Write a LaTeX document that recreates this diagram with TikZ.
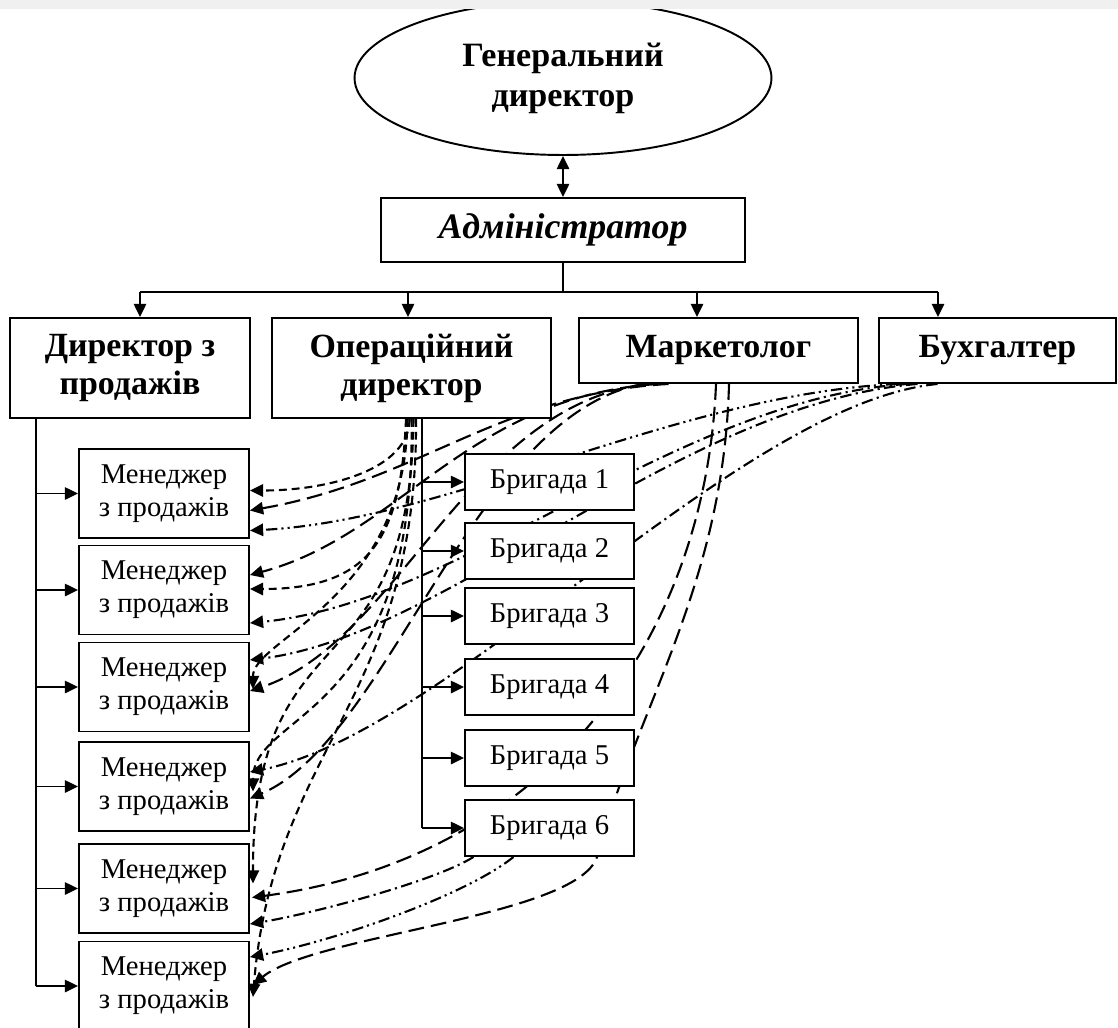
\documentclass[tikz,border=0pt]{standalone}
\usepackage{fontspec}
\setmainfont{Liberation Serif}
\usetikzlibrary{arrows.meta,shapes.geometric,calc,backgrounds}

\begin{document}
\begin{tikzpicture}[x=0.02cm, y=-0.02cm,
  box/.style={draw, line width=1.1pt, fill=white, align=center, inner sep=1pt},
  headbox/.style={box, font=\fontsize{19.3}{21.5}\selectfont\bfseries},
  smallbox/.style={box, font=\fontsize{16.3}{18.7}\selectfont},
  tip/.style={-{Triangle[length=7.5pt,width=7pt]}},
  tree/.style={line width=1.1pt},
  opline/.style={tip, line width=1.2pt, dash pattern=on 4.5pt off 2.8pt},
  mkline/.style={tip, line width=1.2pt, dash pattern=on 9pt off 4pt},
  dashdotline/.style={tip, line width=1.2pt, dash pattern=on 6.5pt off 2.5pt on 1.2pt off 2.5pt},
  dotdotline/.style={tip, line width=1.2pt, dash pattern=on 6.5pt off 2.3pt on 1.2pt off 2.3pt on 1.2pt off 2.3pt}]

  % page
  \useasboundingbox (0,0) rectangle (1118,1027);
  \begin{scope}[on background layer]
    \fill[white] (0,0) rectangle (1118,1027);
  \end{scope}

  % top
  \node[draw, ellipse, line width=1.1pt, minimum width=8.34cm, minimum height=3.08cm, align=center,
        font=\fontsize{19.4}{22.7}\selectfont\bfseries] (gd) at (563,78) {Генеральний\\директор};
  \fill[black!6] (0,0) rectangle (1118,9);
  \node[box, minimum width=7.28cm, minimum height=1.28cm,
        font=\fontsize{20.4}{24}\selectfont\bfseries\itshape] (adm) at (563,230) {Адміністратор};
  \draw[tree, {Triangle[length=7.5pt,width=7pt]}-{Triangle[length=7.5pt,width=7pt]}] (gd.south) -- (adm.north);

  % second level
  \node[headbox, minimum width=4.8cm, minimum height=2cm] (sd) at (130,368) {Директор з\\продажів};
  \node[headbox, minimum width=5.58cm, minimum height=2cm] (od) at (411.5,368) {Операційний\\директор};
  \node[headbox, minimum width=5.58cm, minimum height=1.3cm] (mk) at (718.5,350.5) {Маркетолог};
  \node[headbox, minimum width=4.74cm, minimum height=1.3cm] (bh) at (997.5,350.5) {Бухгалтер};

  \draw[tree] (adm.south) -- ++(0,30) coordinate (bus);
  \coordinate (jsd) at (140,292);
  \coordinate (jod) at (408,292);
  \coordinate (jmk) at (697,292);
  \coordinate (jbh) at (938,292);
  \draw[tree] (jsd) -- (jbh);
  \foreach \n in {sd,od,mk,bh}
    \draw[tree, tip] (j\n) -- (j\n |- \n.north);

  % staff
  \foreach \i/\y in {1/493.5,2/590,3/687,4/786.5,5/888.5,6/986}
    \node[smallbox, minimum width=3.4cm, minimum height=1.78cm] (m\i) at (164,\y) {Менеджер\\з продажів};
  \foreach \i/\y in {1/482,2/551,3/616,4/687,5/758,6/828}
    \node[smallbox, minimum width=3.38cm, minimum height=1.12cm] (b\i) at (549.5,\y) {Бригада \i};

  \draw[tree] ($(sd.south west)+(27,0)$) coordinate (st) -- (st |- m6.west);
  \draw[tree] ($(od.south)+(10.5,0)$) coordinate (ot) -- (ot |- b6.west);
  \foreach \i in {1,...,6} {
    \draw[tree, tip] (st |- m\i.west) -- (m\i.west);
    \draw[tree, tip] (ot |- b\i.west) -- (b\i.west);
  }

  % links
  \begin{scope}[on background layer]
    % operations director
    \draw[opline] ($(od.south)+(-2,0)$) .. controls +(0,50) and +(80,0) .. ($(m1.east)+(0,-3)$);
    \draw[opline] ($(od.south)+(-5.5,0)$) .. controls +(-5,120) and +(120,0) .. ($(m2.east)+(0,-1)$);
    \draw[opline] ($(od.south)+(-4,0)$) .. controls +(-2,180) and +(0,-50) .. ($(m3.east)+(3,2)$);
    \draw[opline] ($(od.south)+(0,0)$) .. controls +(5,300) and +(0,-80) .. ($(m4.east)+(3,5)$);
    \draw[opline] ($(od.south)+(2,0)$) .. controls +(-3,280) and +(0,-280) .. ($(m5.east)+(3,-5)$);
    \draw[opline] ($(od.south)+(4.5,0)$) .. controls +(2,280) and +(20,-250) .. ($(m6.east)+(3,11)$);

    % marketer
    \draw[mkline] ($(mk.south)+(-50,0)$) .. controls +(-170,10) and +(170,-30) .. ($(m1.east)+(0,17)$);
    \draw[mkline] ($(mk.south)+(-60,0)$) .. controls +(-190,12) and +(150,-40) .. ($(m2.east)+(0,-15)$);
    \draw[mkline] ($(mk.south)+(-70,0)$) .. controls +(-180,20) and +(150,-50) .. ($(m3.east)+(0,4)$);
    \draw[mkline] ($(mk.south)+(-75,0)$) .. controls +(-170,30) and +(140,-60) .. ($(m4.east)+(0,12)$);
    \draw[mkline] ($(mk.south)+(-2.5,0)$) .. controls +(-10,250) and +(300,-40) .. ($(m5.east)+(2,9)$);
    \draw[mkline] ($(mk.south)+(10.5,0)$) .. controls +(-5,200) and +(40,-150) .. ($(b6.south)+(47.5,0)$)
      .. controls +(-20,60) and +(60,-50) .. ($(m6.east)+(3,-1)$);

    % accountant
    \draw[dotdotline] ($(bh.south)+(-100,0)$) .. controls +(-220,10) and +(200,-10) .. ($(m1.east)+(0,37)$);
    \draw[dashdotline] ($(bh.south)+(-90,0)$) .. controls +(-230,15) and +(210,-20) .. ($(m2.east)+(0,33)$);
    \draw[dashdotline] ($(bh.south)+(-80,0)$) .. controls +(-240,20) and +(200,-25) .. ($(m3.east)+(0,-27)$);
    \draw[dashdotline] ($(bh.south)+(-60,0)$) .. controls +(-200,20) and +(200,-40) .. ($(m4.east)+(0,-14.5)$);

    % brigade 6
    \draw[dashdotline] ($(b6.south)+(-76,0)$) .. controls +(-40,25) and +(60,-10) .. ($(m5.east)+(0,35.5)$);
    \draw[dotdotline] ($(b6.south)+(-36,0)$) .. controls +(-50,40) and +(80,-15) .. ($(m6.east)+(0,-29)$);
  \end{scope}
\end{tikzpicture}
\end{document}
